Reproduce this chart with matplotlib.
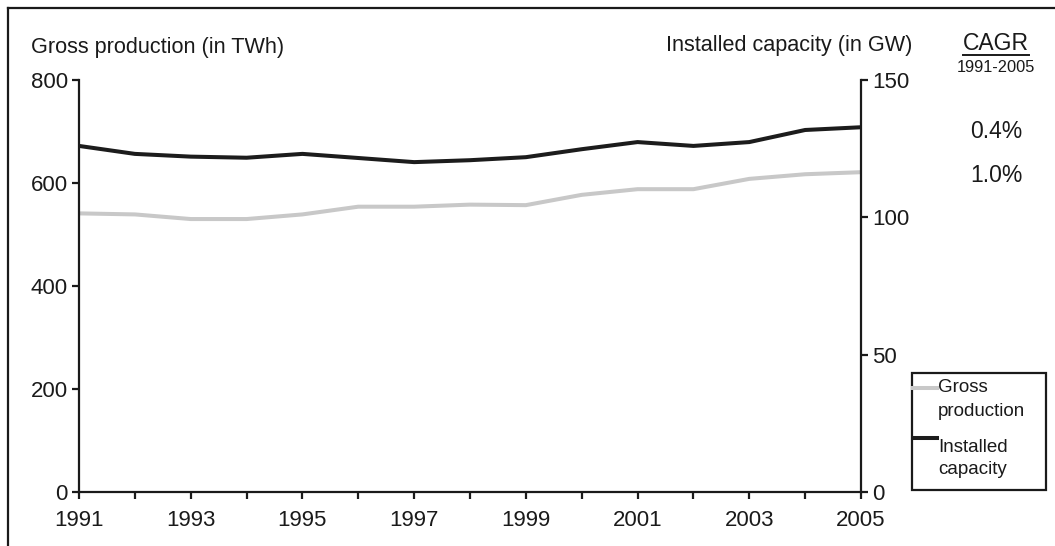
import matplotlib
matplotlib.use("Agg")
import matplotlib.pyplot as plt
from matplotlib.lines import Line2D
from matplotlib.patches import Rectangle

plt.rcParams['font.family'] = ['Liberation Sans', 'DejaVu Sans']

years = list(range(1991, 2006))
gross_production_twh = [541, 539, 530, 530, 539, 554, 554, 558, 557, 577, 588, 588, 608, 617, 621]
installed_capacity_gw = [126.0, 123.1, 122.1, 121.7, 123.1, 121.6, 120.1, 120.8, 121.9, 124.8, 127.4, 126.0, 127.4, 131.8, 132.8]
x_tick_labels = [str(y) if (y - 1991) % 2 == 0 else "" for y in years]
left_ticks = [0, 200, 400, 600, 800]
right_ticks = [0, 50, 100, 150]
cagr_values = ["0.4%", "1.0%"]
legend_labels = [["Gross", "production"], ["Installed", "capacity"]]

W, H = 1055, 546
fig = plt.figure(figsize=(W / 100, H / 100), dpi=100)
ax = fig.add_axes([79 / W, 1 - 492 / H, (861 - 79) / W, (492 - 80) / H])
ax2 = ax.twinx()

txt = '#1a1a1a'
gray = '#c8c8c8'
dark = '#1c1c1c'

l1, = ax.plot(years, gross_production_twh, color=gray, lw=2.9, solid_joinstyle='round')
l2, = ax2.plot(years, installed_capacity_gw, color=dark, lw=2.9, solid_joinstyle='round')

ax.set_xlim(1991, 2005)
ax.set_ylim(0, 800)
ax2.set_ylim(0, 150)
ax.set_xticks(years)
ax.set_xticklabels(x_tick_labels)
ax.set_yticks(left_ticks)
ax2.set_yticks(right_ticks)

for a in (ax, ax2):
    a.set_facecolor('none')
    a.spines['top'].set_visible(False)
    for s in a.spines.values():
        s.set_linewidth(1.6)
        s.set_color(txt)
    a.tick_params(length=5, width=1.6, color=txt, labelsize=16, labelcolor=txt, pad=3)
ax.tick_params(axis='x', pad=8)
ax.spines['right'].set_visible(False)
ax2.spines['left'].set_visible(False)
ax2.spines['bottom'].set_visible(False)

fig.text(31 / W, 1 - 47 / H, 'Gross production (in TWh)', fontsize=15.6, color=txt, ha='left', va='center')
fig.text(912 / W, 1 - 46 / H, 'Installed capacity (in GW)', fontsize=15.6, color=txt, ha='right', va='center')
cagr = fig.text(996 / W, 1 - 44 / H, 'CAGR', fontsize=16.5, color=txt, ha='center', va='center')
fig.text(996 / W, 1 - 68 / H, '1991-2005', fontsize=11.8, color=txt, ha='center', va='center')
fig.text(996 / W, 1 - 131 / H, cagr_values[0], fontsize=16.5, color=txt, ha='center', va='center')
fig.text(996 / W, 1 - 175 / H, cagr_values[1], fontsize=16.5, color=txt, ha='center', va='center')

# underline for CAGR
fig.canvas.draw()
bb = cagr.get_window_extent(fig.canvas.get_renderer())
uy = (bb.y0 + 1) / H
fig.add_artist(Line2D([bb.x0 / W, bb.x1 / W], [uy, uy], color=txt, lw=1.4, transform=fig.transFigure))

# legend box drawn manually (handle aligned with the first text line)
def fx(px):
    return px / W

def fy(py):
    return 1 - py / H

fig.add_artist(Rectangle((fx(912), fy(490)), fx(1046) - fx(912), fy(373) - fy(490),
                         transform=fig.transFigure, fill=False, edgecolor=txt, lw=1.6))
handle_y = [388, 438]
text_rows = [[388, 412], [447, 470]]
for col, hy, labels, rows in zip([l1.get_color(), l2.get_color()], handle_y, legend_labels, text_rows):
    fig.add_artist(Line2D([fx(913), fx(937)], [fy(hy), fy(hy)], color=col, lw=2.9, transform=fig.transFigure))
    for lab, ry in zip(labels, rows):
        fig.text(fx(938), fy(ry), lab, fontsize=13.5, color=txt, ha='left', va='center')

# outer frame lines (top and left)
fig.add_artist(Line2D([8 / W, 1.0], [1 - 8 / H, 1 - 8 / H], color=txt, lw=1.6, transform=fig.transFigure))
fig.add_artist(Line2D([8 / W, 8 / W], [1 - 8 / H, 0.0], color=txt, lw=1.6, transform=fig.transFigure))

fig.savefig('out.png', dpi=100)
